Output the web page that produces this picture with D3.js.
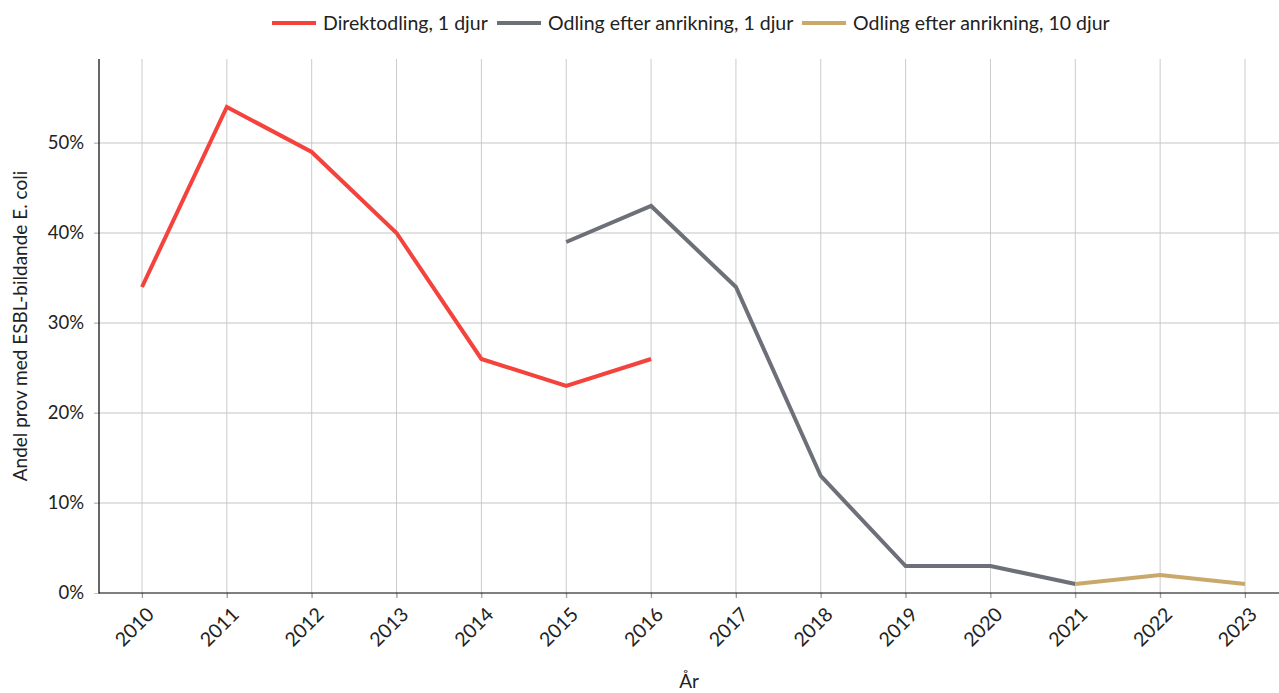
<!DOCTYPE html>
<html>
<head>
<meta charset="utf-8">
<script src="https://cdn.jsdelivr.net/npm/d3@7"></script>
<style>
  html, body { margin: 0; padding: 0; background: #fff; }
  svg { display: block; font-family: Lato, "Noto Sans", sans-serif; }
</style>
</head>
<body>
<svg id="chart" width="1279" height="693"></svg>
<script>
// Years on the x axis
const years = [2010, 2011, 2012, 2013, 2014, 2015, 2016, 2017, 2018, 2019, 2020, 2021, 2022, 2023];

// Share of samples (%) per method
const direktYears = [2010, 2011, 2012, 2013, 2014, 2015, 2016];
const direktValues = [34, 54, 49, 40, 26, 23, 26];

const anrik1Years = [2015, 2016, 2017, 2018, 2019, 2020, 2021];
const anrik1Values = [39, 43, 34, 13, 3, 3, 1];

const anrik10Years = [2021, 2022, 2023];
const anrik10Values = [1, 2, 1];

const seriesNames = ["Direktodling, 1 djur", "Odling efter anrikning, 1 djur", "Odling efter anrikning, 10 djur"];
const seriesColors = ["#f4433c", "#6d7079", "#c9a86a"];

const yTicks = [0, 10, 20, 30, 40, 50];

const series = [
  { name: seriesNames[0], color: seriesColors[0], pts: direktYears.map((y, i) => ({ year: y, v: direktValues[i] })) },
  { name: seriesNames[1], color: seriesColors[1], pts: anrik1Years.map((y, i) => ({ year: y, v: anrik1Values[i] })) },
  { name: seriesNames[2], color: seriesColors[2], pts: anrik10Years.map((y, i) => ({ year: y, v: anrik10Values[i] })) }
];

const svg = d3.select("#chart");
const plotLeft = 99, plotRight = 1279, plotTop = 59, plotBottom = 593;
const textColor = "#222";

const x = d3.scalePoint().domain(years).range([142, 1245]);
const y = d3.scaleLinear().domain([0, 59.33]).range([plotBottom, plotTop]);

// Grid
const grid = svg.append("g");
grid.selectAll("line.v").data(years).join("line")
  .attr("x1", d => x(d)).attr("x2", d => x(d))
  .attr("y1", plotTop).attr("y2", plotBottom + 5)
  .attr("stroke", "#cbcbcb").attr("stroke-width", 1);
grid.selectAll("line.h").data(yTicks.filter(d => d > 0)).join("line")
  .attr("x1", plotLeft - 5).attr("x2", plotRight)
  .attr("y1", d => y(d)).attr("y2", d => y(d))
  .attr("stroke", "#c4c4c4").attr("stroke-width", 1);

// Y axis
const yAxis = svg.append("g").attr("transform", `translate(${plotLeft},0)`)
  .call(d3.axisLeft(y).tickValues(yTicks).tickFormat(d => d + "%").tickSize(5).tickPadding(10));
yAxis.select(".domain").remove();
yAxis.selectAll(".tick line").attr("stroke", "#c4c4c4");
yAxis.selectAll(".tick text").attr("font-size", 18.5).attr("fill", textColor).attr("font-family", "Lato, sans-serif");
svg.append("line").attr("x1", plotLeft).attr("x2", plotLeft).attr("y1", plotTop).attr("y2", plotBottom + 0.5)
  .attr("stroke", "#000").attr("stroke-width", 1.2);

// X axis
const xAxis = svg.append("g").attr("transform", `translate(0,${plotBottom})`)
  .call(d3.axisBottom(x).tickSize(5).tickPadding(6));
xAxis.select(".domain").remove();
xAxis.selectAll(".tick line").attr("stroke", "#999");
xAxis.selectAll(".tick text")
  .attr("font-size", 19.5).attr("fill", textColor).attr("font-family", "Lato, sans-serif")
  .attr("text-anchor", "end")
  .attr("transform", "translate(8,18) rotate(-45)")
  .attr("dy", "0.35em").attr("y", 0).attr("x", 0);
svg.append("line").attr("x1", plotLeft).attr("x2", plotRight).attr("y1", plotBottom).attr("y2", plotBottom)
  .attr("stroke", "#000").attr("stroke-width", 1.2);

// Axis titles
svg.append("text").attr("x", (plotLeft + plotRight) / 2).attr("y", 688)
  .attr("text-anchor", "middle").attr("font-size", 19).attr("fill", textColor).text("År");
svg.append("text")
  .attr("transform", `translate(27,${(plotTop + plotBottom) / 2}) rotate(-90)`)
  .attr("text-anchor", "middle").attr("font-size", 19).attr("fill", textColor)
  .text("Andel prov med ESBL-bildande E. coli");

// Lines
const line = d3.line().x(d => x(d.year)).y(d => y(d.v));
svg.append("g").selectAll("path").data(series).join("path")
  .attr("d", d => line(d.pts))
  .attr("fill", "none").attr("stroke", d => d.color)
  .attr("stroke-width", 4).attr("stroke-linejoin", "miter");

// Legend
const legend = svg.append("g");
const legendX = [272, 497, 802];
series.forEach((s, i) => {
  const g = legend.append("g").attr("transform", `translate(${legendX[i]},23)`);
  g.append("line").attr("x1", 0).attr("x2", 44).attr("y1", 0).attr("y2", 0)
    .attr("stroke", s.color).attr("stroke-width", 4);
  g.append("text").attr("x", 51).attr("y", 0).attr("dy", "0.35em")
    .attr("font-size", 19.5).attr("fill", textColor).text(s.name);
});
</script>
</body>
</html>
